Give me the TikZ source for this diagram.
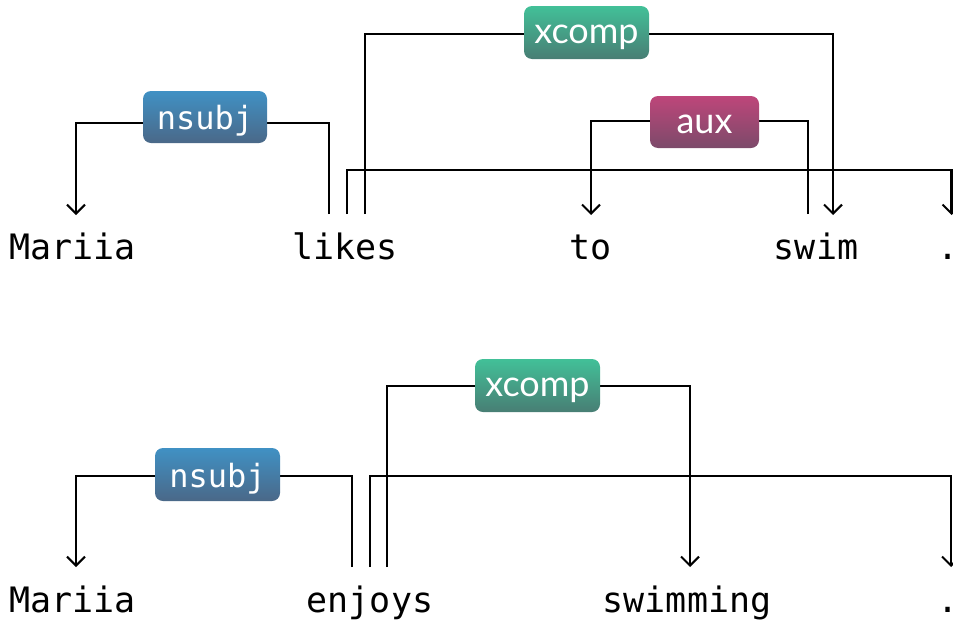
\documentclass[tikz,border=0pt]{standalone}
\usepackage{fontspec}
\newfontfamily\wordfont{DejaVu Sans Mono}
\newfontfamily\relmono{DejaVu Sans Mono}
\newfontfamily\relsans{Lato}
\usetikzlibrary{arrows.meta}
\pgfdeclarelayer{bg}
\pgfsetlayers{bg,main}
\definecolor{nsubjTop}{RGB}{64,145,196}
\definecolor{nsubjBot}{RGB}{74,104,136}
\definecolor{xcompTop}{RGB}{66,192,152}
\definecolor{xcompBot}{RGB}{72,126,116}
\definecolor{auxTop}{RGB}{190,70,122}
\definecolor{auxBot}{RGB}{124,74,106}
\begin{document}
\begin{tikzpicture}[x=1pt,y=-1pt,
  word/.style={font=\wordfont\fontsize{35}{40}\selectfont, inner sep=0pt, anchor=base},
  rel/.style={rounded corners=8pt, minimum height=52pt, inner sep=0pt, text=white},
  relnsubj/.style={rel, minimum width=124pt, top color=nsubjTop, bottom color=nsubjBot,
    font=\relmono\fontsize{32}{36}\selectfont, text height=25pt, text depth=0pt},
  relxcomp/.style={rel, minimum width=125pt, minimum height=53pt, top color=xcompTop, bottom color=xcompBot,
    font=\relsans\fontsize{36}{40}\selectfont, text height=22pt, text depth=0pt},
  relaux/.style={rel, minimum width=109pt, top color=auxTop, bottom color=auxBot,
    font=\relsans\fontsize{36}{40}\selectfont, text height=22pt, text depth=0pt},
  arc/.style={line width=2.1pt, line join=miter},
  arcto/.style={arc, -{Straight Barb[length=9pt,width=18pt]}}]
\useasboundingbox (0,0) rectangle (953,624);
\clip (0,0) rectangle (953,624);

% ---------- first sentence ----------
\node[word] (m1) at (72.5,259) {Mariia};
\node[word] (likes) at (345,259) {likes};
\node[word] (to) at (590.5,259) {to};
\node[word] (swim) at (816,259) {swim};
\node[word] (pt1) at (948,259) {\makebox[6pt][c]{.}};

\node[relnsubj] (nsubjA) at (205,117) {nsubj};
\node[relxcomp] (xcompA) at (586.5,32.5) {xcomp};
\node[relaux] (auxA) at (704.5,122) {aux};

% attachment points above the words
\coordinate (likesN) at (329,214);
\coordinate (likesP) at (347,214);
\coordinate (likesX) at (365,214);
\coordinate (m1In) at (76,215);
\coordinate (toIn) at (591,215);
\coordinate (swimA) at (808,214);
\coordinate (swimIn) at (833,215);
\coordinate (pt1In) at (951.5,215);

\begin{pgfonlayer}{bg}
  \draw[arcto] (likesN) |- ([yshift=-6pt]nsubjA.center) -| (m1In);
  \draw[arcto] (likesX) |- ([yshift=-1.5pt]xcompA.center) -| (swimIn);
  \draw[arcto] (swimA) |- ([yshift=1pt]auxA.center) -| (toIn);
  \draw[arcto] (likesP) -- ++(0,-44) -| (pt1In);
\end{pgfonlayer}

% ---------- second sentence ----------
\node[word] (m2) at (72.5,612) {Mariia};
\node[word] (enjoys) at (370,612) {enjoys};
\node[word] (swimming) at (687,612) {swimming};
\node[word] (pt2) at (948,612) {\makebox[6pt][c]{.}};

\node[relnsubj, minimum width=125pt, minimum height=53pt] (nsubjB) at (217.5,474.5) {nsubj};
\node[relxcomp] (xcompB) at (537.5,385.5) {xcomp};

\coordinate (enjoysN) at (352,567);
\coordinate (enjoysP) at (370,567);
\coordinate (enjoysX) at (387,567);
\coordinate (m2In) at (76,567);
\coordinate (swimmingIn) at (690,567);
\coordinate (pt2In) at (951,567);

\begin{pgfonlayer}{bg}
  \draw[arcto] (enjoysN) |- ([yshift=-1.5pt]nsubjB.center) -| (m2In);
  \draw[arcto] (enjoysX) |- ([yshift=-0.5pt]xcompB.center) -| (swimmingIn);
  \draw[arcto] (enjoysP) -- ++(0,-91) -| (pt2In);
\end{pgfonlayer}
\end{tikzpicture}
\end{document}
